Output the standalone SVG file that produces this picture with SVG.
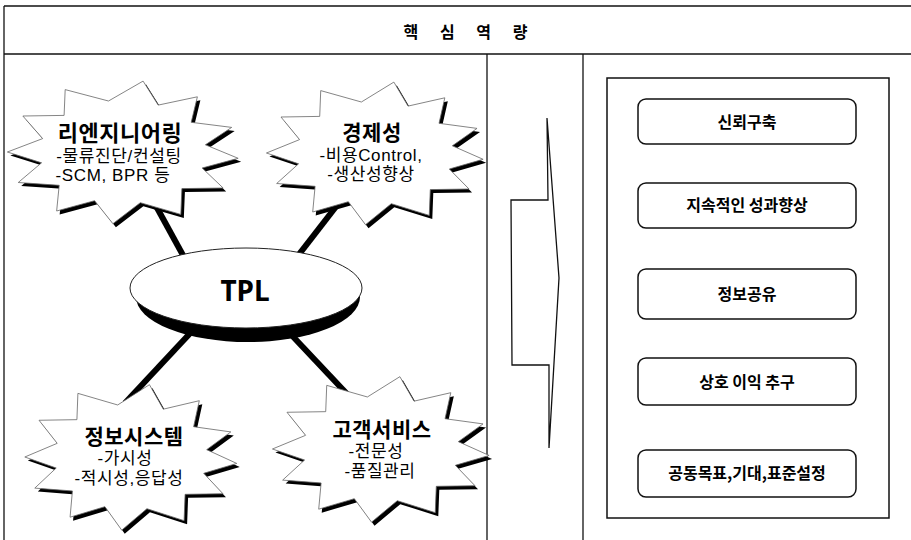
<svg xmlns="http://www.w3.org/2000/svg" xmlns:xlink="http://www.w3.org/1999/xlink" width="911" height="540" viewBox="0 0 911 540">
<style>
.frame{fill:none;stroke:#111;stroke-width:1.3}
.burst-shadow{fill:#000;stroke:none}
.burst{fill:#fff;stroke:#666;stroke-width:0.8}
.conn{stroke:#000;stroke-width:6;stroke-linecap:butt}
.t{font-family:"Liberation Sans","Noto Sans CJK KR",sans-serif;fill:#000;text-anchor:middle;font-size:17px;letter-spacing:0.6px}
.title{font-size:21px;font-weight:bold;letter-spacing:0.5px}
.box{fill:#fff;stroke:#111;stroke-width:1.5}
.boxt{font-family:"Noto Sans CJK KR",sans-serif;font-size:16px;font-weight:bold;text-anchor:middle;fill:#000}
</style>
<defs>
<path id="burstShape" vector-effect="non-scaling-stroke" d="M20.5,-70.9 L35.9,-46.9 L75.9,-55.2 L69.6,-29.7 L110.9,-24.6 L84.1,-7.2 L117.5,6.3 L80.8,16 L102.2,36 L60.1,36.6 L59,62.4 L17.7,50.7 L-10.3,71.7 L-29,48.7 L-67.7,59 L-65.1,33.3 L-106.9,30.5 L-83.1,10.8 L-118,0 L-82,-13.4 L-102.2,-36 L-60.1,-36.6 L-59,-62.4 L-14.8,-51 Z"/>
</defs>
<rect width="911" height="540" fill="#fff"/>
<g id="frame">
<line class="frame" x1="4" y1="6" x2="911" y2="6"/>
<line class="frame" x1="4" y1="6" x2="4" y2="540"/>
<line class="frame" x1="4" y1="54" x2="911" y2="54"/>
<line class="frame" x1="487" y1="54" x2="487" y2="540"/>
<line class="frame" x1="583" y1="54" x2="583" y2="540"/>
</g>
<g id="header">
<text x="470" y="38" style="font-family:'Noto Sans CJK KR',sans-serif;font-size:16px;font-weight:bold;letter-spacing:9px;text-anchor:middle">핵 심 역 량</text>
</g>
<g id="connectors">
<line class="conn" x1="150" y1="195" x2="190" y2="268"/>
<line class="conn" x1="345" y1="195" x2="290" y2="266"/>
<line class="conn" x1="195" y1="328" x2="125" y2="403"/>
<line class="conn" x1="283" y1="326" x2="348" y2="395"/>
</g>
<g id="node-reengineering">
<use xlink:href="#burstShape" class="burst-shadow" transform="translate(126,155.5) scale(0.98,1)"/>
<use xlink:href="#burstShape" class="burst" transform="translate(123,152) scale(0.98,1)"/>
<text class="t"><tspan class="title" x="120" y="141" style="font-size:22px">리엔지니어링</tspan><tspan x="119" y="161.5">-물류진단/컨설팅</tspan><tspan x="113" y="181">-SCM, BPR 등</tspan></text>
</g>
<g id="node-economy">
<use xlink:href="#burstShape" class="burst-shadow" transform="translate(378,156.5) scale(0.92,1)"/>
<use xlink:href="#burstShape" class="burst" transform="translate(375,153) scale(0.92,1)"/>
<text class="t"><tspan class="title" x="372" y="139.5">경제성</tspan><tspan x="371" y="160.5">-비용Control,</tspan><tspan x="371" y="180">-생산성향상</tspan></text>
</g>
<g id="node-tpl">
<ellipse cx="248" cy="297" rx="112" ry="45" fill="#000"/>
<ellipse cx="246" cy="288" rx="116" ry="40" fill="#fff" stroke="#222" stroke-width="1"/>
<text x="245" y="301" style="font-family:'Noto Sans','Liberation Sans',sans-serif;font-size:28px;font-weight:bold;text-anchor:middle">TPL</text>
</g>
<g id="node-infosystem">
<use xlink:href="#burstShape" class="burst-shadow" transform="translate(134,460.5) scale(0.9,1.02)"/>
<use xlink:href="#burstShape" class="burst" transform="translate(131,457) scale(0.9,1.02)"/>
<text class="t"><tspan class="title" x="134" y="444">정보시스템</tspan><tspan x="125" y="464">-가시성</tspan><tspan x="129" y="483.5">-적시성,응답성</tspan></text>
</g>
<g id="node-customer">
<use xlink:href="#burstShape" class="burst-shadow" transform="translate(384,452.5) scale(0.92,1.02)"/>
<use xlink:href="#burstShape" class="burst" transform="translate(381,449) scale(0.92,1.02)"/>
<text class="t"><tspan class="title" x="382" y="437">고객서비스</tspan><tspan x="376" y="457">-전문성</tspan><tspan x="380" y="476.5">-품질관리</tspan></text>
</g>
<g id="arrow">
<polygon points="511,200 548,200 547,118 559,278 549,448 549,365 512,365" fill="#fff" stroke="#111" stroke-width="1.3" stroke-linejoin="miter"/>
</g>
<g id="core-panel">
<rect x="607" y="78" width="282" height="440" fill="none" stroke="#111" stroke-width="1.5"/>
</g>
<g id="box-trust">
<rect class="box" x="638" y="99" width="218" height="45" rx="8"/>
<text class="boxt" x="747" y="128">신뢰구축</text>
</g>
<g id="box-performance">
<rect class="box" x="638" y="183" width="218" height="45" rx="8"/>
<text class="boxt" x="747" y="211">지속적인 성과향상</text>
</g>
<g id="box-info">
<rect class="box" x="638" y="269" width="218" height="50" rx="8"/>
<text class="boxt" x="747" y="300">정보공유</text>
</g>
<g id="box-mutual">
<rect class="box" x="638" y="358" width="218" height="47" rx="8"/>
<text class="boxt" x="747" y="388">상호 이익 추구</text>
</g>
<g id="box-goals">
<rect class="box" x="638" y="450" width="218" height="47" rx="8"/>
<text class="boxt" x="747" y="479">공동목표,기대,표준설정</text>
</g>
</svg>
